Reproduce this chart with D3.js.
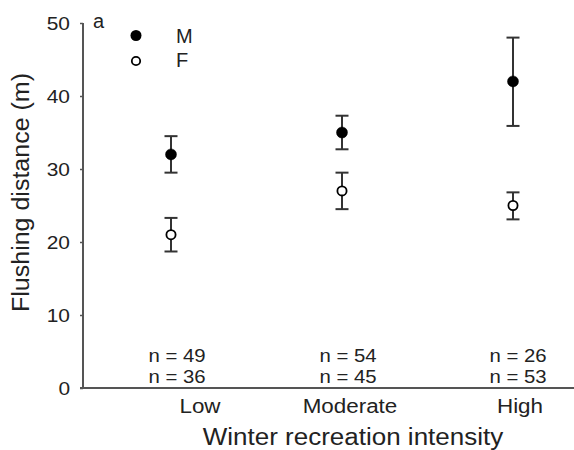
<!doctype html>
<html>
  <head>
    <meta charset="utf-8">
    <title>Flushing distance by winter recreation intensity</title>
    <script src="https://cdnjs.cloudflare.com/ajax/libs/d3/7.8.5/d3.min.js"></script>
    <style>
      body { margin: 0; background: #fff; }
      text { font-family: "Liberation Sans", Arial, sans-serif; fill: #222; }
    </style>
  </head>
  <body>
    <div id="chart"></div>
    <script>
      // data
      const categories = ['Low', 'Moderate', 'High'];
      const maleMean = [32, 35, 42],
            maleLo   = [29.5, 32.7, 35.9],
            maleHi   = [34.5, 37.3, 48];
      const femaleMean = [21, 27, 25],
            femaleLo   = [18.7, 24.5, 23.1],
            femaleHi   = [23.3, 29.5, 26.8];
      const maleN = [49, 54, 26],
            femaleN = [36, 45, 53];
      const yTicks = [0, 10, 20, 30, 40, 50];

      const width = 574, height = 450;
      const svg = d3.select('#chart').append('svg')
        .attr('width', width)
        .attr('height', height);

      const y = d3.scaleLinear().domain([0, 50]).range([388, 23]);
      const x = d3.scalePoint().domain(categories).range([171, 513]);
      const labelShift = [29, 8, 7]; // category labels sit a bit right of the points
      const nShift = [6, 6, 5];

      // the original figure's lettering is a bit wider than Arial
      function stretch(sel, f) {
        sel.each(function() {
          const len = this.getComputedTextLength();
          d3.select(this).attr('textLength', len * f).attr('lengthAdjust', 'spacingAndGlyphs');
        });
      }

      // y axis
      const yAxis = svg.append('g')
        .attr('transform', 'translate(83,0)')
        .call(d3.axisLeft(y).tickValues(yTicks).tickSize(3).tickPadding(10));
      yAxis.select('.domain').remove();
      yAxis.selectAll('.tick line').attr('stroke', '#555').attr('stroke-width', 1.5);
      yAxis.selectAll('.tick text').style('font-size', '19px').attr('fill', '#222');
      stretch(yAxis.selectAll('.tick text'), 1.1);
      svg.append('line')
        .attr('x1', 83).attr('x2', 83)
        .attr('y1', y(50)).attr('y2', y(0))
        .attr('stroke', '#555').attr('stroke-width', 2);

      // x axis line
      svg.append('line')
        .attr('x1', 80).attr('x2', width)
        .attr('y1', y(0)).attr('y2', y(0))
        .attr('stroke', '#555').attr('stroke-width', 2);

      const cats = svg.selectAll('.cat')
        .data(categories)
        .join('text')
        .attr('class', 'cat')
        .attr('x', (d, i) => x(d) + labelShift[i])
        .attr('y', 413)
        .attr('text-anchor', 'middle')
        .style('font-size', '20px')
        .text(d => d);
      stretch(cats, 1.12);

      const xTitle = svg.append('text')
        .attr('x', 353)
        .attr('y', 445)
        .attr('text-anchor', 'middle')
        .style('font-size', '23px')
        .text('Winter recreation intensity');
      stretch(xTitle, 1.13);

      const yTitle = svg.append('text')
        .attr('transform', 'translate(28.5,192.5) rotate(-90)')
        .attr('text-anchor', 'middle')
        .style('font-size', '23px')
        .text('Flushing distance (m)');
      stretch(yTitle, 1.087);

      // sample sizes
      const nm = svg.selectAll('.nm')
        .data(maleN)
        .join('text')
        .attr('class', 'nm')
        .attr('x', (d, i) => x(categories[i]) + nShift[i])
        .attr('y', 362)
        .attr('text-anchor', 'middle')
        .style('font-size', '18px')
        .text(d => 'n = ' + d);
      const nf = svg.selectAll('.nf')
        .data(femaleN)
        .join('text')
        .attr('class', 'nf')
        .attr('x', (d, i) => x(categories[i]) + nShift[i])
        .attr('y', 383)
        .attr('text-anchor', 'middle')
        .style('font-size', '18px')
        .text(d => 'n = ' + d);
      stretch(nm, 1.13);
      stretch(nf, 1.13);

      // error bars + points
      function drawSeries(mean, lo, hi, filled, cls) {
        const g = svg.append('g').attr('class', cls);
        const rows = categories.map((c, i) => ({c: c, m: mean[i], lo: lo[i], hi: hi[i]}));
        const bars = g.selectAll('g').data(rows).join('g');
        bars.append('line')
          .attr('x1', d => x(d.c)).attr('x2', d => x(d.c))
          .attr('y1', d => y(d.lo)).attr('y2', d => y(d.hi))
          .attr('stroke', '#333').attr('stroke-width', 2);
        bars.selectAll('.cap')
          .data(d => [{c: d.c, v: d.lo}, {c: d.c, v: d.hi}])
          .join('line')
          .attr('class', 'cap')
          .attr('x1', d => x(d.c) - 6.5).attr('x2', d => x(d.c) + 6.5)
          .attr('y1', d => y(d.v)).attr('y2', d => y(d.v))
          .attr('stroke', '#333').attr('stroke-width', 2);
        bars.append('circle')
          .attr('cx', d => x(d.c))
          .attr('cy', d => y(d.m))
          .attr('r', filled ? 5.5 : 4.6)
          .attr('fill', filled ? '#000' : '#fff')
          .attr('stroke', '#000')
          .attr('stroke-width', filled ? 0.5 : 1.8);
      }
      drawSeries(maleMean, maleLo, maleHi, true, 'male');
      drawSeries(femaleMean, femaleLo, femaleHi, false, 'female');

      // panel letter and legend
      svg.append('text').attr('x', 93).attr('y', 28).style('font-size', '20px').text('a');
      svg.append('circle').attr('cx', 136).attr('cy', 35.5).attr('r', 5.5).attr('fill', '#000');
      svg.append('circle').attr('cx', 136).attr('cy', 61).attr('r', 4.2)
        .attr('fill', '#fff').attr('stroke', '#000').attr('stroke-width', 1.8);
      svg.append('text').attr('x', 176).attr('y', 43).style('font-size', '20px').text('M');
      svg.append('text').attr('x', 176).attr('y', 67).style('font-size', '20px').text('F');
    </script>
  </body>
</html>
